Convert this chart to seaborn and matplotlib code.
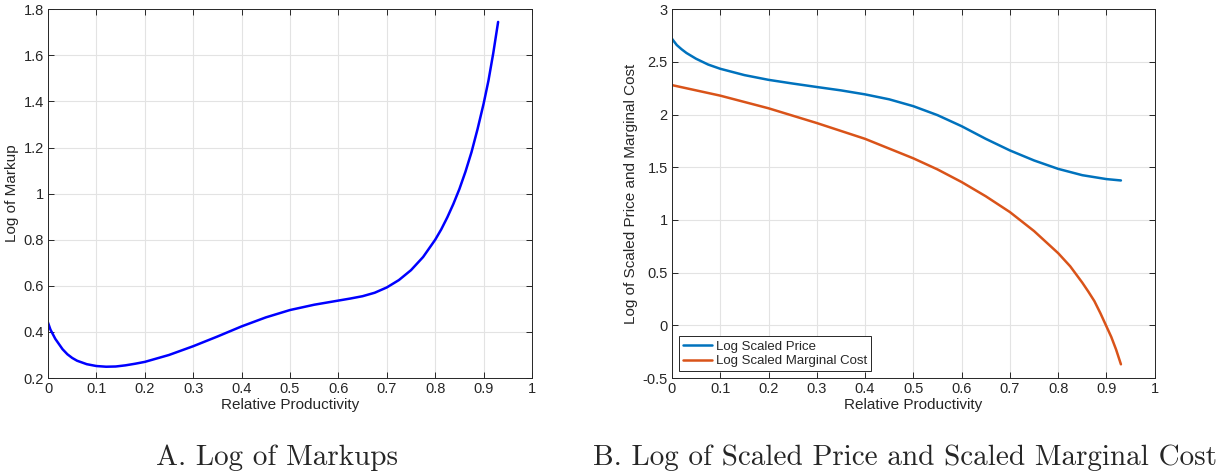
import numpy as np
import pandas as pd
import matplotlib
matplotlib.use("Agg")
import matplotlib.pyplot as plt
from matplotlib.ticker import FuncFormatter
import seaborn as sns

# Panel A: log of markups vs relative productivity
x_markup = [0.000, 0.005, 0.010, 0.015, 0.020, 0.030, 0.040, 0.050, 0.060, 0.080,
            0.100, 0.120, 0.140, 0.160, 0.180, 0.200, 0.250, 0.300, 0.350, 0.400,
            0.450, 0.500, 0.550, 0.575, 0.600, 0.625, 0.650, 0.675, 0.700, 0.725,
            0.750, 0.775, 0.800, 0.8125, 0.825, 0.8375, 0.850, 0.8625, 0.875, 0.8875,
            0.900, 0.910, 0.920, 0.930]
log_markup = [0.440, 0.410, 0.390, 0.370, 0.355, 0.325, 0.303, 0.287, 0.275, 0.260,
              0.252, 0.249, 0.250, 0.255, 0.262, 0.270, 0.300, 0.338, 0.380, 0.424,
              0.463, 0.495, 0.518, 0.527, 0.536, 0.545, 0.555, 0.570, 0.593, 0.625,
              0.668, 0.725, 0.800, 0.845, 0.897, 0.955, 1.020, 1.095, 1.180, 1.280,
              1.390, 1.490, 1.610, 1.745]

# Panel B: log scaled price and log scaled marginal cost
x_price = [0.000, 0.005, 0.010, 0.020, 0.030, 0.050, 0.075, 0.100, 0.150, 0.200,
           0.250, 0.300, 0.350, 0.400, 0.450, 0.500, 0.550, 0.600, 0.650, 0.700,
           0.750, 0.800, 0.850, 0.900, 0.930]
log_price = [2.720, 2.690, 2.660, 2.620, 2.585, 2.530, 2.475, 2.435, 2.375, 2.330,
             2.295, 2.262, 2.230, 2.192, 2.145, 2.080, 1.995, 1.890, 1.770, 1.660,
             1.565, 1.485, 1.425, 1.388, 1.375]

x_cost = [0.000, 0.100, 0.200, 0.300, 0.400, 0.500, 0.550, 0.600, 0.650, 0.700,
          0.750, 0.800, 0.825, 0.850, 0.8625, 0.875, 0.8875, 0.900, 0.910, 0.920,
          0.930]
log_cost = [2.280, 2.180, 2.060, 1.920, 1.770, 1.585, 1.480, 1.360, 1.225, 1.075,
            0.895, 0.685, 0.560, 0.405, 0.320, 0.230, 0.115, -0.010, -0.110, -0.230,
            -0.370]

sns.set_style("ticks")
plt.rcParams['font.family'] = ['Liberation Sans', 'DejaVu Sans']

fig = plt.figure(figsize=(12.16, 4.74), dpi=100)
ax1 = fig.add_axes([0.0395, 0.2025, 0.398, 0.778])
ax2 = fig.add_axes([0.5526, 0.2025, 0.397, 0.778])

fmt = FuncFormatter(lambda v, p: f"{v:g}")
axcol = "#262626"


def style_axes(ax, ylim, yticks, ylabel):
    ax.set_xlim(0, 1)
    ax.set_ylim(*ylim)
    ax.set_xticks(np.arange(0, 1.01, 0.1))
    ax.set_yticks(yticks)
    ax.xaxis.set_major_formatter(fmt)
    ax.yaxis.set_major_formatter(fmt)
    ax.grid(True, color="#e3e3e3", linewidth=0.8)
    ax.set_axisbelow(True)
    ax.tick_params(direction="in", top=True, right=True, length=4, width=0.7,
                   colors=axcol, labelsize=10.5, labelcolor=axcol, pad=3)
    for s in ax.spines.values():
        s.set_visible(True)
        s.set_color(axcol)
        s.set_linewidth(0.7)
    ax.set_xlabel("Relative Productivity", fontsize=11, color=axcol, labelpad=1)
    ax.set_ylabel(ylabel, fontsize=11, color=axcol, labelpad=3)


df_a = pd.DataFrame({"x": x_markup, "y": log_markup})
sns.lineplot(data=df_a, x="x", y="y", ax=ax1, color="#0000ff", linewidth=1.8)
style_axes(ax1, (0.2, 1.8), np.arange(0.2, 1.81, 0.2), "Log of Markup")

df_p = pd.DataFrame({"x": x_price, "y": log_price})
df_c = pd.DataFrame({"x": x_cost, "y": log_cost})
sns.lineplot(data=df_p, x="x", y="y", ax=ax2, color="#0072BD", linewidth=1.8,
             label="Log Scaled Price")
sns.lineplot(data=df_c, x="x", y="y", ax=ax2, color="#D95319", linewidth=1.8,
             label="Log Scaled Marginal Cost")
style_axes(ax2, (-0.5, 3), np.arange(-0.5, 3.01, 0.5), "Log of Scaled Price and Marginal Cost")
leg = ax2.legend(loc="lower left", fontsize=9.5, frameon=True, fancybox=False,
                 edgecolor=axcol, framealpha=1, handlelength=2.2, handletextpad=0.3,
                 borderpad=0.3, labelspacing=0.2, borderaxespad=0.5)
leg.get_frame().set_linewidth(0.7)

fig.text(0.228, 0.019, "A. Log of Markups", family="cmr10", fontsize=21,
         ha="center", va="baseline")
fig.text(0.744, 0.019, "B. Log of Scaled Price and Scaled Marginal Cost", family="cmr10",
         fontsize=21, ha="center", va="baseline")

fig.savefig("out.png", dpi=100)
